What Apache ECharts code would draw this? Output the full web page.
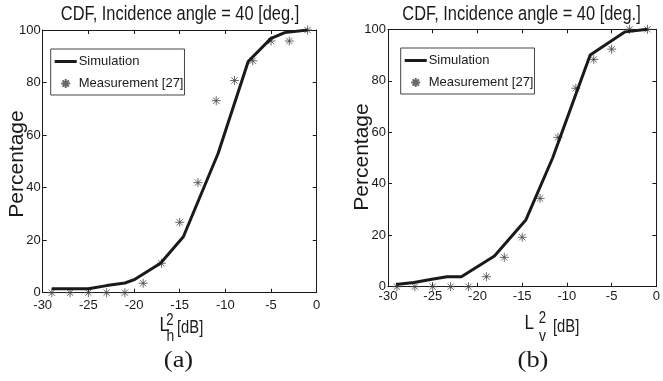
<!DOCTYPE html>
<html>
<head>
<meta charset="utf-8">
<script src="https://cdn.jsdelivr.net/npm/echarts@6/dist/echarts.min.js"></script>
<style>
  html, body { margin: 0; padding: 0; background: #fff; }
  #chart { width: 663px; height: 381px; }
</style>
</head>
<body>
<div id="chart"></div>
<script>
// tick values shared by both panels
const xTicks = [-30, -25, -20, -15, -10, -5, 0];
const yTicks = [0, 20, 40, 60, 80, 100];

// measurement points (same dB positions in both panels)
const measX = [-29, -27, -25, -23, -21, -19, -17, -15, -13, -11, -9, -7, -5, -3, -1];
const measH = [0, 0, 0, 0, 0, 3.6, 11.2, 26.8, 41.9, 73.1, 80.8, 88.3, 95.8, 95.8, 100];
const measV = [0, 0, 0, 0, 0, 3.9, 11.4, 19.2, 34.3, 58.0, 77.1, 88.3, 92.3, 100, 100];

// simulation curves (vertices)
const simHX = [-29, -25, -23, -21, -19.9, -17.1, -14.6, -10.8, -7.5, -5, -3.5, -1];
const simHY = [1.5, 1.5, 2.7, 3.7, 5.1, 11.2, 21.3, 53, 88, 96.8, 99, 100];
const simVX = [-29.1, -27.1, -25.1, -23.4, -21.8, -18.1, -14.6, -11.6, -7.4, -3.5, -1];
const simVY = [0.9, 1.6, 2.9, 3.9, 3.9, 11.9, 25.9, 50, 90, 99, 100];

const SANS = "'Liberation Sans', Arial, sans-serif";
const SERIF = "'Liberation Serif', 'Times New Roman', serif";
const INK = '#1a1a1a';
const NARROW = 0.82; // horizontal squeeze to mimic the condensed face

const zip = (xs, ys) => xs.map((x, i) => [x, ys[i]]);
const star = 'path://M5 0L5 10M0 5L10 5M1.5 1.5L8.5 8.5M1.5 8.5L8.5 1.5';

const grids = [
  { left: 42.7, top: 30, width: 274, height: 262.7 },
  { left: 388, top: 29.3, width: 273, height: 257.4 }
];

const xAxes = [];
const yAxes = [];
grids.forEach((g, gi) => {
  const common = {
    type: 'value', gridIndex: gi,
    axisLine: { show: true, onZero: false, lineStyle: { color: INK, width: 1 } },
    axisTick: { show: true, inside: true, length: 4, lineStyle: { color: INK } },
    splitLine: { show: false }
  };
  const xa = { ...common, min: xTicks[0], max: xTicks[xTicks.length - 1], interval: 5 };
  const ya = { ...common, min: yTicks[0], max: yTicks[yTicks.length - 1], interval: 20 };
  xAxes.push({
    ...xa, position: 'bottom',
    axisLabel: { fontFamily: SANS, fontSize: 13, color: INK, margin: gi === 0 ? 6 : 3 }
  });
  xAxes.push({ ...xa, position: 'top', axisLabel: { show: false } });
  yAxes.push({
    ...ya, position: 'left',
    axisLabel: { fontFamily: SANS, fontSize: 13, color: INK, margin: 2 }
  });
  yAxes.push({ ...ya, position: 'right', axisLabel: { show: false } });
});

const simStyle = { symbol: 'none', lineStyle: { color: INK, width: 3 }, itemStyle: { color: INK } };
const measStyle = {
  symbol: star, symbolSize: 9,
  itemStyle: { color: 'rgba(0,0,0,0)', borderColor: '#444', borderWidth: 1 }
};

const series = [
  { name: 'Simulation', type: 'line', xAxisIndex: 0, yAxisIndex: 0, data: zip(simHX, simHY), ...simStyle },
  { name: 'Measurement [27]', type: 'scatter', xAxisIndex: 0, yAxisIndex: 0, data: zip(measX, measH), ...measStyle },
  { name: 'Simulation', type: 'line', xAxisIndex: 2, yAxisIndex: 2, data: zip(simVX, simVY), ...simStyle },
  { name: 'Measurement [27]', type: 'scatter', xAxisIndex: 2, yAxisIndex: 2, data: zip(measX, measV), ...measStyle }
];

const legendBase = {
  orient: 'vertical', selectedMode: false,
  data: [{ name: 'Simulation', icon: 'path://M0 0L22 0L22 3L0 3Z' }, { name: 'Measurement [27]' }],
  borderColor: '#444', borderWidth: 1, borderRadius: 0,
  padding: [6, 1, 5, 4], itemGap: 9, itemWidth: 22, itemHeight: 9,
  textStyle: { fontFamily: SANS, fontSize: 13, color: INK, padding: [0, 0, 0, -3] }
};

const txt = (x, y, text, font, size, extra, sx) => ({
  type: 'text', x, y, silent: true, scaleX: sx || NARROW,
  style: Object.assign({ text, font: size + 'px ' + font, fill: INK, align: 'center', verticalAlign: 'middle' }, extra || {})
});

const graphics = [
  txt(180, 14.5, 'CDF, Incidence angle = 40 [deg.]', SANS, 20),
  txt(521.5, 14.5, 'CDF, Incidence angle = 40 [deg.]', SANS, 20),
  { type: 'text', x: 17, y: 164, rotation: Math.PI / 2, silent: true,
    style: { text: 'Percentage', font: '21px ' + SANS, fill: INK, align: 'center', verticalAlign: 'middle' } },
  { type: 'text', x: 362, y: 157, rotation: Math.PI / 2, silent: true,
    style: { text: 'Percentage', font: '21px ' + SANS, fill: INK, align: 'center', verticalAlign: 'middle' } },
  // L_h^2 [dB]
  txt(159.5, 336, 'L', SANS, 21, { align: 'left', verticalAlign: 'bottom' }),
  txt(170, 321, '2', SANS, 16),
  txt(170.5, 336.5, 'h', SANS, 17),
  txt(177, 328.5, '[dB]', SANS, 18, { align: 'left' }),
  // L_v^2 [dB]
  txt(524.5, 334, 'L', SANS, 21, { align: 'left', verticalAlign: 'bottom' }),
  txt(542.5, 319, '2', SANS, 16),
  txt(542.5, 336, 'v', SANS, 17),
  txt(553, 327.5, '[dB]', SANS, 18, { align: 'left' }),
  // captions
  txt(178.5, 361, '(a)', SERIF, 24, null, 1.1),
  txt(533, 361, '(b)', SERIF, 24, null, 1.1)
];

const chart = echarts.init(document.getElementById('chart'), null, { renderer: 'canvas' });
chart.setOption({
  animation: false,
  backgroundColor: '#fff',
  grid: grids.map(g => ({ ...g, containLabel: false })),
  xAxis: xAxes,
  yAxis: yAxes,
  legend: [
    { ...legendBase, left: 50.7, top: 49 },
    { ...legendBase, left: 400.7, top: 48 }
  ],
  series,
  graphic: graphics
});
</script>
</body>
</html>
